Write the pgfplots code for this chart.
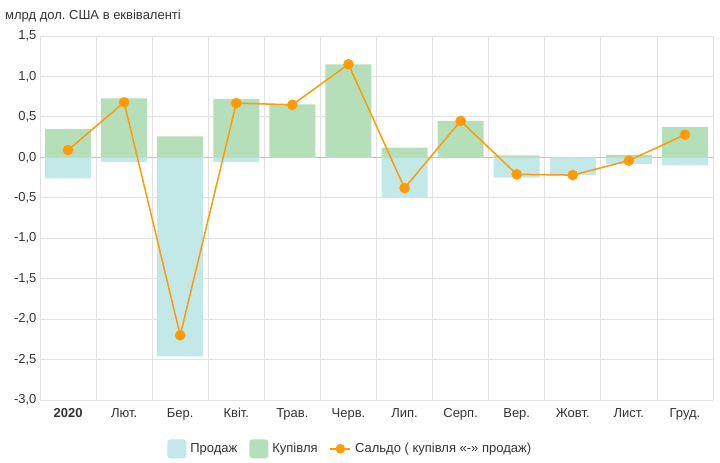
\documentclass[border=0pt]{standalone}
\usepackage{pgfplots}
\pgfplotsset{compat=1.18}
\usepackage{fontspec}
\setmainfont{Liberation Sans}
\definecolor{sellc}{HTML}{C2E8E8}
\definecolor{buyc}{HTML}{B5DFB9}
\definecolor{salc}{HTML}{FF9A08}
\definecolor{gridc}{HTML}{E2E2E2}
\definecolor{zeroc}{HTML}{C4C4C4}
\definecolor{txtc}{HTML}{333333}
\frenchspacing
\begin{document}
\fontsize{13bp}{15bp}\selectfont
\begin{tikzpicture}
\useasboundingbox (0,0) rectangle (720bp,463bp);
\begin{axis}[
  at={(40bp,63bp)}, anchor=south west,
  scale only axis, width=673bp, height=364bp,
  xmin=-0.5, xmax=11.5, ymin=-3, ymax=1.5,
  xtick={0,...,11},
  xticklabels={\textbf{2020},Лют.,Бер.,Квіт.,Трав.,Черв.,Лип.,Серп.,Вер.,Жовт.,Лист.,Груд.},
  minor xtick={-0.5,0.5,1.5,2.5,3.5,4.5,5.5,6.5,7.5,8.5,9.5,10.5,11.5},
  xminorgrids, ymajorgrids,
  ytick={-3,-2.5,-2,-1.5,-1,-0.5,0,0.5,1,1.5},
  extra y ticks={0}, extra y tick labels={},
  extra y tick style={grid style={zeroc, line width=0.8bp}},
  grid style={gridc, line width=0.8bp},
  minor grid style={gridc, line width=0.8bp},
  major tick length=0pt, minor tick length=0pt,
  axis line style={draw=none},
  tick label style={text=txtc, font=\fontsize{13bp}{15bp}\selectfont},
  yticklabel style={xshift=1bp, /pgf/number format/.cd, fixed, fixed zerofill, precision=1, use comma, assume math mode=true},
  xticklabel style={yshift=-4bp},
  legend style={draw=none, at={(0.461,-0.134)}, anchor=center, legend columns=-1,
    font=\fontsize{13bp}{15bp}\selectfont, text=txtc, inner sep=0pt,
    /tikz/every odd column/.append style={column sep=2bp},
    /tikz/every even column/.append style={column sep=10bp}},
]
\addplot[ybar, bar width=0.82, bar shift=0pt, fill=sellc, draw=none,
  legend image code/.code={\fill[sellc, rounded corners=3bp] (0bp,-9.5bp) rectangle (19bp,9.5bp);}]
  coordinates {(0,-0.26) (1,-0.06) (2,-2.46) (3,-0.06) (4,-0.01) (5,-0.01) (6,-0.50) (7,0) (8,-0.25) (9,-0.22) (10,-0.08) (11,-0.10)};
\addlegendentry{Продаж}
\addplot[ybar, bar width=0.82, bar shift=0pt, fill=buyc, draw=none,
  legend image code/.code={\fill[buyc, rounded corners=3bp] (0bp,-9.5bp) rectangle (19bp,9.5bp);}]
  coordinates {(0,0.35) (1,0.73) (2,0.26) (3,0.72) (4,0.655) (5,1.15) (6,0.12) (7,0.45) (8,0.025) (9,0) (10,0.03) (11,0.375)};
\addlegendentry{Купівля}
\addplot[salc, line width=1.5bp, mark=*, mark size=4.5bp, mark options={fill=salc, draw=salc},
  legend image code/.code={\draw[salc, line width=1.5bp] (0bp,0bp) -- (20bp,0bp); \fill[salc] (10bp,0bp) circle (4bp);}]
  coordinates {(0,0.09) (1,0.68) (2,-2.20) (3,0.67) (4,0.65) (5,1.15) (6,-0.38) (7,0.45) (8,-0.21) (9,-0.22) (10,-0.04) (11,0.28)};
\addlegendentry{Сальдо ( купівля «-» продаж)}
\end{axis}
\node[anchor=base west, text=txtc, inner sep=0pt] at (5bp,443bp) {млрд дол. США в еквіваленті};
\end{tikzpicture}
\end{document}
